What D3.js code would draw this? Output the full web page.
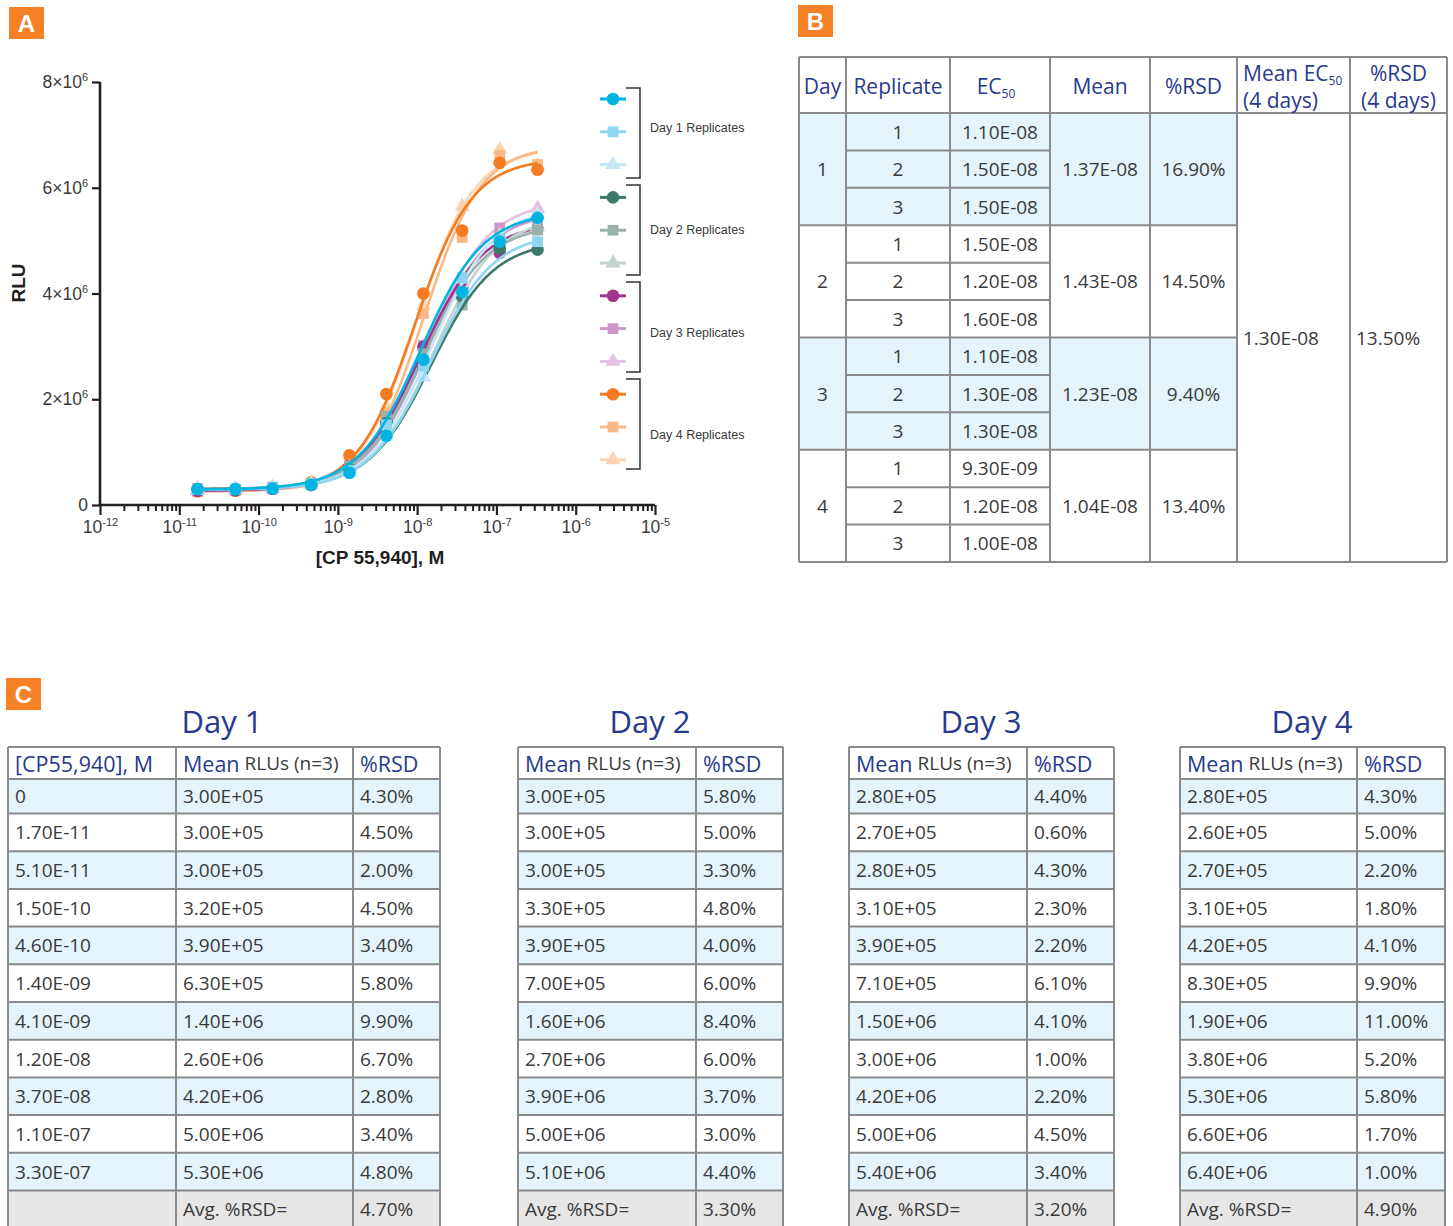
<!DOCTYPE html>
<html>
<head>
<meta charset="utf-8">
<script src="https://cdn.jsdelivr.net/npm/d3@7"></script>
<style>
  body { margin: 0; background: #fff; }
  svg { display: block; }
</style>
</head>
<body>
<svg id="fig" width="1453" height="1226"></svg>
<script>
// ---------------- data ----------------
// Agonist concentrations plotted on the dose-response curve (M)
const concentrations = [1.7e-11, 5.1e-11, 1.5e-10, 4.6e-10, 1.4e-9, 4.1e-9, 1.2e-8, 3.7e-8, 1.1e-7, 3.3e-7];
// Concentration labels of the summary tables (includes the no-agonist control)
const concLabels = ["0", "1.70E-11", "5.10E-11", "1.50E-10", "4.60E-10", "1.40E-09", "4.10E-09", "1.20E-08", "3.70E-08", "1.10E-07", "3.30E-07"];

const dayNames = ["Day 1", "Day 2", "Day 3", "Day 4"];

// Replicate RLU readings (x10^6), one array per replicate
const day1Replicates = [
  [0.30, 0.30, 0.31, 0.38, 0.61, 1.31, 2.75, 4.03, 4.98, 5.43],
  [0.29, 0.30, 0.33, 0.40, 0.66, 1.52, 2.63, 4.30, 5.02, 4.98],
  [0.31, 0.30, 0.32, 0.39, 0.62, 1.37, 2.42, 4.27, 5.00, 5.49]
];
const day2Replicates = [
  [0.30, 0.29, 0.32, 0.38, 0.68, 1.55, 2.62, 3.95, 4.85, 4.83],
  [0.31, 0.30, 0.34, 0.40, 0.73, 1.68, 2.86, 3.78, 5.05, 5.20],
  [0.29, 0.31, 0.33, 0.39, 0.69, 1.57, 2.62, 3.97, 5.10, 5.27]
];
const day3Replicates = [
  [0.27, 0.28, 0.31, 0.38, 0.73, 1.56, 2.99, 4.12, 4.77, 5.22],
  [0.27, 0.28, 0.31, 0.39, 0.68, 1.45, 3.02, 4.22, 5.24, 5.37],
  [0.27, 0.28, 0.31, 0.40, 0.72, 1.49, 2.99, 4.26, 4.99, 5.61]
];
const day4Replicates = [
  [0.26, 0.27, 0.31, 0.43, 0.94, 2.10, 4.00, 5.19, 6.47, 6.34],
  [0.25, 0.27, 0.30, 0.41, 0.77, 1.75, 3.62, 5.06, 6.61, 6.44],
  [0.27, 0.27, 0.32, 0.42, 0.78, 1.85, 3.78, 5.65, 6.72, 6.42]
];

// Four-parameter logistic fits per replicate
const ec50Day1 = [1.10e-8, 1.50e-8, 1.50e-8];
const ec50Day2 = [1.50e-8, 1.20e-8, 1.60e-8];
const ec50Day3 = [1.10e-8, 1.30e-8, 1.30e-8];
const ec50Day4 = [9.30e-9, 1.20e-8, 1.00e-8];
const fitTopDay1 = [5.55, 5.15, 5.65];
const fitTopDay2 = [5.00, 5.30, 5.45];
const fitTopDay3 = [5.35, 5.55, 5.75];
const fitTopDay4 = [6.55, 6.80, 6.75];
const fitBottom = [0.29, 0.30, 0.27, 0.26];
const fitHill = [1.10, 1.10, 1.10, 1.20];

// Per-day EC50 summary
const ec50DayMean = [1.37e-8, 1.43e-8, 1.23e-8, 1.04e-8];
const ec50DayRsd = [16.90, 14.50, 9.40, 13.40];
const ec50OverallMean = 1.30e-8;
const ec50OverallRsd = 13.50;

// Mean RLUs (n=3) and %RSD per concentration (first entry = no agonist)
const day1Means = [3.0e5, 3.0e5, 3.0e5, 3.2e5, 3.9e5, 6.3e5, 1.4e6, 2.6e6, 4.2e6, 5.0e6, 5.3e6];
const day2Means = [3.0e5, 3.0e5, 3.0e5, 3.3e5, 3.9e5, 7.0e5, 1.6e6, 2.7e6, 3.9e6, 5.0e6, 5.1e6];
const day3Means = [2.8e5, 2.7e5, 2.8e5, 3.1e5, 3.9e5, 7.1e5, 1.5e6, 3.0e6, 4.2e6, 5.0e6, 5.4e6];
const day4Means = [2.8e5, 2.6e5, 2.7e5, 3.1e5, 4.2e5, 8.3e5, 1.9e6, 3.8e6, 5.3e6, 6.6e6, 6.4e6];
const day1Rsd = [4.30, 4.50, 2.00, 4.50, 3.40, 5.80, 9.90, 6.70, 2.80, 3.40, 4.80];
const day2Rsd = [5.80, 5.00, 3.30, 4.80, 4.00, 6.00, 8.40, 6.00, 3.70, 3.00, 4.40];
const day3Rsd = [4.40, 0.60, 4.30, 2.30, 2.20, 6.10, 4.10, 1.00, 2.20, 4.50, 3.40];
const day4Rsd = [4.30, 5.00, 2.20, 1.80, 4.10, 9.90, 11.00, 5.20, 5.80, 1.70, 1.00];
const avgRsd = [4.70, 3.30, 3.20, 4.90];

// Axis ticks
const yTicks = [0, 2e6, 4e6, 6e6, 8e6];
const xDecades = [-12, -11, -10, -9, -8, -7, -6, -5];

// ---------------- styling ----------------
const dayColors = [
  ["#00b5e2", "#8ed5f0", "#c4e7f6"],
  ["#3c7a6c", "#96b2aa", "#c3d4cf"],
  ["#a3358f", "#cd96c7", "#e3c3e1"],
  ["#f47b20", "#f9b886", "#fcd4b2"]
];
const NAVY = "#293a8d";
const TEXT = "#3a3a3a";
const AXIS = "#231f20";
const BLUE_FILL = "#e5f3fa";
const GRAY_FILL = "#e6e6e7";
const GRID = "#8a8a8a";
const ORANGE = "#f58025";
const TABLE_FONT = "'Open Sans', 'Noto Sans', sans-serif";
const CHART_FONT = "'Liberation Sans', Arial, sans-serif";

const replicates = [day1Replicates, day2Replicates, day3Replicates, day4Replicates];
const ec50s = [ec50Day1, ec50Day2, ec50Day3, ec50Day4];
const tops = [fitTopDay1, fitTopDay2, fitTopDay3, fitTopDay4];
const meansByDay = [day1Means, day2Means, day3Means, day4Means];
const rsdByDay = [day1Rsd, day2Rsd, day3Rsd, day4Rsd];

const fmtE = v => {
  const [m, e] = v.toExponential(2).split("e");
  const n = +e;
  return m + "E" + (n < 0 ? "-" : "+") + String(Math.abs(n)).padStart(2, "0");
};
const fmtPct = v => v.toFixed(2) + "%";

const svg = d3.select("#fig");

// panel letters
function panelLabel(letter, x, y) {
  const g = svg.append("g");
  g.append("rect").attr("x", x).attr("y", y).attr("width", 35).attr("height", 32).attr("fill", ORANGE);
  g.append("text").attr("x", x + 17.5).attr("y", y + 16.5)
    .attr("text-anchor", "middle").attr("dominant-baseline", "central")
    .attr("font-family", CHART_FONT).attr("font-weight", "bold").attr("font-size", 24)
    .attr("fill", "#fff").text(letter);
}
panelLabel("A", 9, 7);
panelLabel("B", 798, 5);
panelLabel("C", 6, 678);

// ---------------- panel A: dose-response curves ----------------
const x = d3.scaleLog().domain([1e-12, 1e-5]).range([100, 655]);
const y = d3.scaleLinear().domain([0, 8e6]).range([505, 82]);

const chart = svg.append("g").attr("font-family", CHART_FONT);

// minor x ticks
const minorTicks = [];
xDecades.slice(0, -1).forEach(p => { for (let k = 2; k <= 9; k++) minorTicks.push(k * Math.pow(10, p)); });
chart.append("g").attr("transform", "translate(0,505)")
  .call(d3.axisBottom(x).tickValues(minorTicks).tickSize(6).tickFormat(""))
  .call(g => g.select(".domain").remove())
  .call(g => g.selectAll("line").attr("stroke", AXIS).attr("stroke-width", 2));

// major x ticks
const xAxis = chart.append("g").attr("transform", "translate(0,505)")
  .call(d3.axisBottom(x).tickValues(xDecades.map(p => Math.pow(10, p))).tickSize(10).tickPadding(6).tickFormat(""));
xAxis.select(".domain").attr("stroke", AXIS).attr("stroke-width", 2.6).attr("d", "M100,0H655");
xAxis.selectAll("line").attr("stroke", AXIS).attr("stroke-width", 2.2);
xAxis.selectAll(".tick text").each(function (d) {
  const t = d3.select(this).attr("font-size", 17.5).attr("fill", TEXT).attr("font-family", CHART_FONT);
  t.append("tspan").text("10");
  t.append("tspan").attr("dy", -7).attr("font-size", 11).text(Math.round(Math.log10(d)));
});

// y axis
const yAxis = chart.append("g").attr("transform", "translate(100,0)")
  .call(d3.axisLeft(y).tickValues(yTicks).tickSize(8).tickPadding(4).tickFormat(""));
yAxis.select(".domain").attr("stroke", AXIS).attr("stroke-width", 2.6).attr("d", "M0,82V506");
yAxis.selectAll("line").attr("stroke", AXIS).attr("stroke-width", 2.2);
yAxis.selectAll(".tick text").each(function (d) {
  const t = d3.select(this).attr("font-size", 17.5).attr("fill", TEXT).attr("font-family", CHART_FONT);
  if (d === 0) { t.text("0"); return; }
  t.append("tspan").text((d / 1e6) + "\u00d710");
  t.append("tspan").attr("dy", -7).attr("font-size", 11).text("6");
});

// axis titles
chart.append("text").attr("transform", "translate(25,283) rotate(-90)")
  .attr("text-anchor", "middle").attr("font-weight", "bold").attr("font-size", 19).attr("fill", AXIS).text("RLU");
chart.append("text").attr("x", 380).attr("y", 564)
  .attr("text-anchor", "middle").attr("font-weight", "bold").attr("font-size", 19).attr("fill", AXIS).text("[CP 55,940], M");

// marker shapes
const symbolFor = { circle: d3.symbolCircle, square: d3.symbolSquare, triangle: d3.symbolTriangle };
const symbolSize = { circle: 125, square: 115, triangle: 100 };
const shapes = ["circle", "square", "triangle"];

// fitted 4PL curve sampled along the log-concentration axis
const logMin = Math.log10(concentrations[0]);
const logMax = Math.log10(concentrations[concentrations.length - 1]);
const curveLogs = d3.range(0, 201).map(i => logMin + (logMax - logMin) * i / 200);
const fourPL = (c, bottom, top, ec50, hill) => bottom + (top - bottom) / (1 + Math.pow(ec50 / c, hill));
const line = d3.line().x(d => x(d[0])).y(d => y(d[1])).curve(d3.curveLinear);

const plot = chart.append("g");
for (let d = 3; d >= 0; d--) {
  for (let r = 2; r >= 0; r--) {
    const color = dayColors[d][r];
    const curve = curveLogs.map(l => {
      const c = Math.pow(10, l);
      return [c, fourPL(c, fitBottom[d], tops[d][r], ec50s[d][r], fitHill[d]) * 1e6];
    });
    const g = plot.append("g");
    g.append("path").datum(curve).attr("d", line)
      .attr("fill", "none").attr("stroke", color).attr("stroke-width", 2.6);
    g.selectAll("path.pt").data(replicates[d][r].map((v, i) => [concentrations[i], v * 1e6]))
      .join("path").attr("class", "pt")
      .attr("transform", p => `translate(${x(p[0])},${y(p[1])})`)
      .attr("d", d3.symbol(symbolFor[shapes[r]], symbolSize[shapes[r]]))
      .attr("fill", color);
  }
}

// legend: one entry per replicate, bracketed by day
const legend = chart.append("g");
const legendY = i => 99 + i * 32.8;
const legendLabelY = [128, 230, 333, 435];
for (let d = 0; d < 4; d++) {
  for (let r = 0; r < 3; r++) {
    const i = d * 3 + r;
    const color = dayColors[d][r];
    legend.append("line").attr("x1", 600).attr("x2", 626).attr("y1", legendY(i)).attr("y2", legendY(i))
      .attr("stroke", color).attr("stroke-width", 3);
    legend.append("path").attr("transform", `translate(613,${legendY(i)})`)
      .attr("d", d3.symbol(symbolFor[shapes[r]], symbolSize[shapes[r]]))
      .attr("fill", color);
  }
  const top = 88 + d * 97, bottom = top + 90;
  legend.append("path").attr("d", `M626,${top}H640V${bottom}H626`)
    .attr("fill", "none").attr("stroke", "#333").attr("stroke-width", 1.5);
  legend.append("text").attr("x", 650).attr("y", legendLabelY[d])
    .attr("dominant-baseline", "central").attr("font-size", 12.5).attr("fill", TEXT)
    .text(dayNames[d] + " Replicates");
}

// ---------------- panel B: EC50 table ----------------
const bCols = [799, 846, 950, 1050, 1150, 1237, 1350, 1447];
const bHeadTop = 57, bHeadBot = 113, bBottom = 562;
const bRowH = (bBottom - bHeadBot) / 12;
const tb = svg.append("g").attr("font-family", TABLE_FONT);

// shading for days 1 and 3
for (let d = 0; d < 4; d++) {
  if (d % 2 === 0) {
    tb.append("rect").attr("x", bCols[0]).attr("y", bHeadBot + d * 3 * bRowH)
      .attr("width", bCols[5] - bCols[0]).attr("height", 3 * bRowH).attr("fill", BLUE_FILL);
  }
}
// grid lines
const bLines = [];
bCols.forEach(cx => bLines.push([cx, bHeadTop, cx, bBottom]));
bLines.push([bCols[0], bHeadTop, bCols[7], bHeadTop]);
bLines.push([bCols[0], bHeadBot, bCols[7], bHeadBot]);
bLines.push([bCols[0], bBottom, bCols[7], bBottom]);
for (let k = 1; k < 12; k++) {
  const yy = bHeadBot + k * bRowH;
  if (k % 3 === 0) bLines.push([bCols[0], yy, bCols[5], yy]);
  else bLines.push([bCols[1], yy, bCols[3], yy]);
}
tb.selectAll("line.grid").data(bLines).join("line").attr("class", "grid")
  .attr("x1", l => l[0]).attr("y1", l => l[1]).attr("x2", l => l[2]).attr("y2", l => l[3])
  .attr("stroke", GRID).attr("stroke-width", 2);

// header
const bHeadMid = (bHeadTop + bHeadBot) / 2;
const cMid = i => (bCols[i] + bCols[i + 1]) / 2;
const hdr = (tx, ty, anchor) => tb.append("text").attr("x", tx).attr("y", ty)
  .attr("text-anchor", anchor).attr("dominant-baseline", "central")
  .attr("font-size", 21).attr("fill", NAVY);
hdr(cMid(0), bHeadMid + 1, "middle").text("Day");
hdr(cMid(1), bHeadMid + 1, "middle").text("Replicate");
const ecH = hdr(cMid(2) - 4, bHeadMid + 1, "middle");
ecH.append("tspan").text("EC");
ecH.append("tspan").attr("font-size", 12).attr("dy", 7).text("50");
hdr(cMid(3), bHeadMid + 1, "middle").text("Mean");
hdr(cMid(4), bHeadMid + 1, "middle").text("%RSD");
const mH = hdr(bCols[5] + 6, 73, "start");
mH.append("tspan").text("Mean EC");
mH.append("tspan").attr("font-size", 12).attr("dy", 7).text("50");
hdr(bCols[5] + 6, 100, "start").text("(4 days)");
hdr(cMid(6), 73, "middle").text("%RSD");
hdr(cMid(6), 100, "middle").text("(4 days)");

// body
const bText = (tx, ty, anchor, s) => tb.append("text").attr("x", tx).attr("y", ty)
  .attr("text-anchor", anchor).attr("dominant-baseline", "central")
  .attr("font-size", 19).attr("fill", TEXT).text(s);
for (let d = 0; d < 4; d++) {
  const gTop = bHeadBot + d * 3 * bRowH;
  const gMid = gTop + 1.5 * bRowH;
  bText(cMid(0), gMid, "middle", String(d + 1));
  for (let r = 0; r < 3; r++) {
    const ry = gTop + (r + 0.5) * bRowH;
    bText(cMid(1), ry, "middle", String(r + 1));
    bText(cMid(2), ry, "middle", fmtE(ec50s[d][r]));
  }
  bText(cMid(3), gMid, "middle", fmtE(ec50DayMean[d]));
  bText(cMid(4), gMid, "middle", fmtPct(ec50DayRsd[d]));
}
bText(bCols[5] + 6, 338, "start", fmtE(ec50OverallMean));
bText(bCols[6] + 6, 338, "start", fmtPct(ec50OverallRsd));

// ---------------- panel C: mean RLU tables ----------------
const cTables = [
  { cols: [8, 176, 353, 440], withConc: true, titleX: 222 },
  { cols: [518, 696, 783], withConc: false, titleX: 650 },
  { cols: [849, 1027, 1114], withConc: false, titleX: 981 },
  { cols: [1180, 1357, 1445], withConc: false, titleX: 1312 }
];
const cHeadTop = 747, cHeadBot = 779;
const cRowTops = [779, 813.5];
for (let k = 1; k <= 11; k++) cRowTops.push(813.5 + k * 37.7);   // 12 row tops + bottom edge

const tc = svg.append("g").attr("font-family", TABLE_FONT);
cTables.forEach((t, d) => {
  const g = tc.append("g");
  const cols = t.cols;
  const left = cols[0], right = cols[cols.length - 1];
  const nRows = concLabels.length + 1;   // + average row

  g.append("text").attr("x", t.titleX).attr("y", 721).attr("text-anchor", "middle")
    .attr("dominant-baseline", "central").attr("font-size", 31).attr("font-weight", 500)
    .attr("fill", NAVY).text(dayNames[d]);

  for (let i = 0; i < nRows; i++) {
    const fill = i === nRows - 1 ? GRAY_FILL : (i % 2 === 0 ? BLUE_FILL : "#fff");
    g.append("rect").attr("x", left).attr("y", cRowTops[i])
      .attr("width", right - left).attr("height", cRowTops[i + 1] - cRowTops[i]).attr("fill", fill);
  }
  const lines = [];
  cols.forEach(cx => lines.push([cx, cHeadTop, cx, 1228]));
  lines.push([left, cHeadTop, right, cHeadTop]);
  cRowTops.forEach(ry => lines.push([left, ry, right, ry]));
  g.selectAll("line").data(lines).join("line")
    .attr("x1", l => l[0]).attr("y1", l => l[1]).attr("x2", l => l[2]).attr("y2", l => l[3])
    .attr("stroke", GRID).attr("stroke-width", 2);

  const headMid = (cHeadTop + cHeadBot) / 2;
  let ci = 0;
  if (t.withConc) {
    g.append("text").attr("x", cols[0] + 7).attr("y", headMid).attr("dominant-baseline", "central")
      .attr("font-size", 21.5).attr("fill", NAVY).text("[CP55,940], M");
    ci = 1;
  }
  const mh = g.append("text").attr("x", cols[ci] + 7).attr("y", headMid).attr("dominant-baseline", "central");
  mh.append("tspan").attr("font-size", 21.5).attr("fill", NAVY).text("Mean");
  mh.append("tspan").attr("font-size", 19).attr("fill", TEXT).text(" RLUs (n=3)");
  g.append("text").attr("x", cols[ci + 1] + 7).attr("y", headMid).attr("dominant-baseline", "central")
    .attr("font-size", 21.5).attr("fill", NAVY).text("%RSD");

  const cell = (cx, i, s) => g.append("text").attr("x", cx + 7)
    .attr("y", (cRowTops[i] + cRowTops[i + 1]) / 2).attr("dominant-baseline", "central")
    .attr("font-size", 19).attr("fill", TEXT).text(s);
  for (let i = 0; i < concLabels.length; i++) {
    if (t.withConc) cell(cols[0], i, concLabels[i]);
    cell(cols[ci], i, fmtE(meansByDay[d][i]));
    cell(cols[ci + 1], i, fmtPct(rsdByDay[d][i]));
  }
  cell(cols[ci], nRows - 1, "Avg. %RSD=");
  cell(cols[ci + 1], nRows - 1, fmtPct(avgRsd[d]));
});
</script>
</body>
</html>
